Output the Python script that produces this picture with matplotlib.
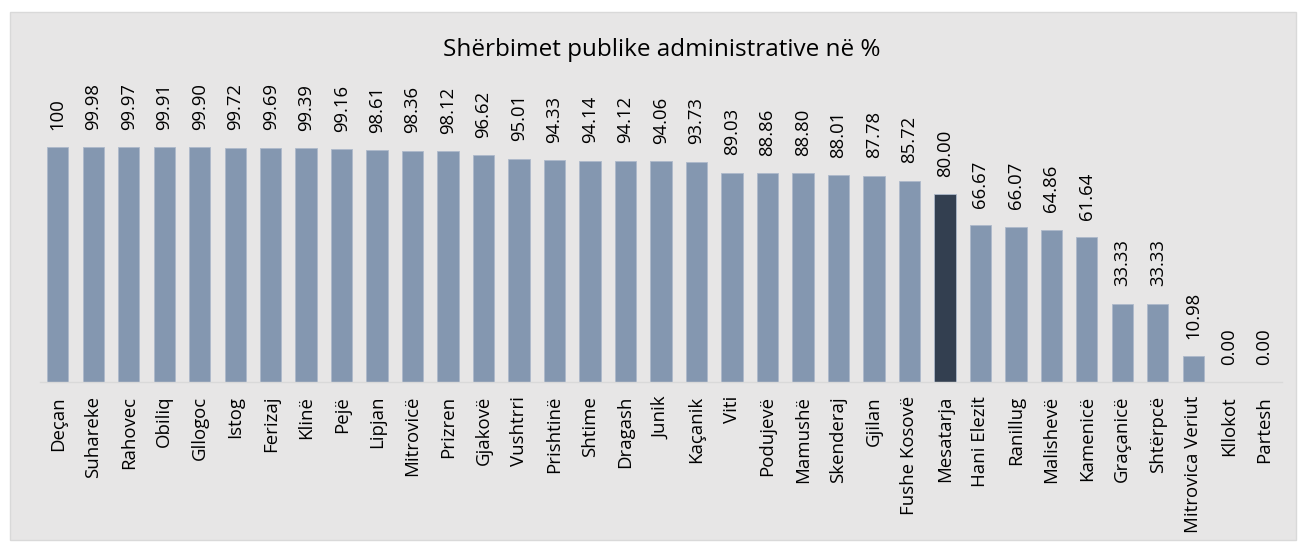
import matplotlib
matplotlib.use("Agg")
import matplotlib.pyplot as plt
from matplotlib.patches import Rectangle

categories = ["Deçan", "Suhareke", "Rahovec", "Obiliq", "Gllogoc", "Istog", "Ferizaj", "Klinë",
              "Pejë", "Lipjan", "Mitrovicë", "Prizren", "Gjakovë", "Vushtrri", "Prishtinë", "Shtime",
              "Dragash", "Junik", "Kaçanik", "Viti", "Podujevë", "Mamushë", "Skenderaj", "Gjilan",
              "Fushe Kosovë", "Mesatarja", "Hani Elezit", "Ranillug", "Malishevë", "Kamenicë",
              "Graçanicë", "Shtërpcë", "Mitrovica Veriut", "Kllokot", "Partesh"]
values = [100, 99.98, 99.97, 99.91, 99.90, 99.72, 99.69, 99.39, 99.16, 98.61, 98.36, 98.12,
          96.62, 95.01, 94.33, 94.14, 94.12, 94.06, 93.73, 89.03, 88.86, 88.80, 88.01, 87.78,
          85.72, 80.00, 66.67, 66.07, 64.86, 61.64, 33.33, 33.33, 10.98, 0.00, 0.00]
value_labels = ["100", "99.98", "99.97", "99.91", "99.90", "99.72", "99.69", "99.39", "99.16",
                "98.61", "98.36", "98.12", "96.62", "95.01", "94.33", "94.14", "94.12", "94.06",
                "93.73", "89.03", "88.86", "88.80", "88.01", "87.78", "85.72", "80.00", "66.67",
                "66.07", "64.86", "61.64", "33.33", "33.33", "10.98", "0.00", "0.00"]
highlight = "Mesatarja"
title = "Shërbimet publike administrative në %"

W, H = 1306, 550
fig = plt.figure(figsize=(W / 100, H / 100), dpi=100)
fig.patch.set_facecolor("white")

# chart area background
bg = fig.add_axes([0, 0, 1, 1], zorder=-5)
bg.set_xlim(0, W)
bg.set_ylim(H, 0)
bg.axis("off")
bg.add_patch(Rectangle((10, 12), 1286, 528, facecolor="#E7E6E6", edgecolor="#D9D9D9", linewidth=1))

ax_left, ax_right = 40 / W, 1282 / W
ax_bottom = 1 - 382 / H
ax_top = 1 - 147 / H
ax = fig.add_axes([ax_left, ax_bottom, ax_right - ax_left, ax_top - ax_bottom])
ax.set_facecolor("none")

n = len(categories)
x = list(range(n))
colors = ["#333F50" if c == highlight else "#8497B0" for c in categories]
ax.bar(x, values, width=0.6, color=colors, edgecolor="#ADB9CA", linewidth=0.6, zorder=2)
ax.set_xlim(-0.5, n - 0.5)
ax.set_ylim(0, 100)

for xi, v, lab in zip(x, values, value_labels):
    ax.annotate(lab, (xi, v), xytext=(0, 12.5), textcoords="offset points", rotation=90,
                ha="center", va="bottom", fontsize=13.3, family="Open Sans", color="black",
                annotation_clip=False)

ax.set_xticks(x)
ax.set_xticklabels(categories, rotation=90, fontsize=13.4, family="Open Sans")
ax.tick_params(axis="x", length=0, pad=10)
ax.set_yticks([])
for s in ["top", "right", "left"]:
    ax.spines[s].set_visible(False)
ax.spines["bottom"].set_color("#D9D9D9")
ax.spines["bottom"].set_linewidth(1)

fig.text(0.5 * (443 + 880) / W, 1 - 50 / H, title, ha="center", va="center",
         fontsize=17.5, family="Open Sans")

fig.savefig("out.png", dpi=100)
